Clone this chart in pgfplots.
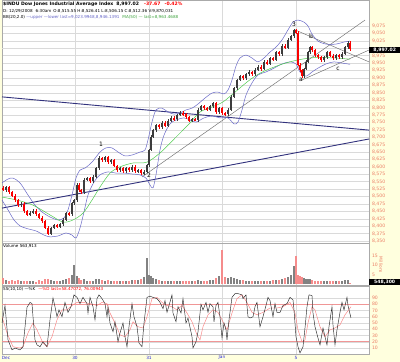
\documentclass[border=0pt]{standalone}
\usepackage{pgfplots}
\pgfplotsset{compat=1.18}
\usepackage{pgfplotstable}
\usepackage{fontspec}
\setmainfont{DejaVu Sans}
\definecolor{bgy}{RGB}{255,255,222}
\definecolor{gridc}{RGB}{218,218,218}
\definecolor{framec}{RGB}{170,170,170}
\definecolor{lbl}{RGB}{235,125,100}
\definecolor{bbc}{RGB}{105,105,200}
\definecolor{mac}{RGB}{80,205,80}
\definecolor{cred}{RGB}{250,0,0}
\definecolor{cblk}{RGB}{60,60,60}
\definecolor{navy}{RGB}{50,50,125}
\definecolor{tgray}{RGB}{110,110,110}
\definecolor{kc}{RGB}{40,40,40}
\definecolor{dc}{RGB}{250,130,130}
\definecolor{vred}{RGB}{245,140,140}
\definecolor{vgray}{RGB}{130,130,130}
\definecolor{xlab}{RGB}{40,40,220}
\definecolor{bandc}{RGB}{240,150,150}

\pgfplotstableread{
x o c v
3 8530 8522 3.0
6 8522 8532 2.0
9 8532 8515 1.8
12 8515 8502 2.2
15 8502 8488 1.5
18 8488 8471 2.0
21 8471 8476 1.6
24 8476 8450 1.8
27 8450 8438 1.4
30 8438 8445 1.5
33 8445 8452 1.7
36 8452 8441 1.3
39 8441 8428 2.0
42 8428 8417 1.8
45 8417 8395 2.5
48 8395 8375 2.6
51 8375 8394 2.0
54 8394 8404 1.5
57 8404 8398 1.4
60 8398 8407 1.8
63 8407 8421 2.2
66 8421 8444 2.5
69 8444 8440 3.0
72 8440 8478 4.5
74 8478 8488 10.0
77 8488 8540 4.0
79 8540 8522 3.0
81 8522 8515 2.2
84 8515 8556 2.4
87 8556 8562 1.8
90 8562 8552 1.6
93 8552 8566 1.8
96 8566 8596 2.4
99 8596 8630 2.8
102 8630 8623 1.9
105 8623 8633 1.7
108 8633 8616 2.0
111 8616 8623 1.5
114 8623 8603 1.7
117 8603 8589 1.6
120 8589 8596 1.4
123 8596 8586 1.5
126 8586 8596 1.6
129 8596 8589 1.7
132 8589 8600 1.9
135 8600 8586 2.0
138 8586 8589 2.2
141 8589 8579 2.6
144 8579 8583 3.5
147 8583 8606 13.5
149 8606 8657 5.0
151 8657 8701 4.0
153 8701 8724 3.2
156 8724 8741 2.4
159 8741 8734 2.0
162 8734 8748 1.8
165 8748 8738 1.6
168 8738 8755 1.5
171 8755 8765 1.6
174 8765 8760 1.4
177 8760 8775 1.5
180 8775 8782 1.6
183 8782 8778 1.4
186 8778 8768 1.7
189 8768 8755 1.8
192 8755 8761 1.5
195 8761 8758 1.6
198 8758 8792 2.0
201 8792 8805 1.8
204 8805 8798 1.6
207 8798 8792 1.7
210 8792 8805 2.0
213 8805 8815 2.2
216 8815 8785 3.0
219 8785 8798 4.0
222 8798 8781 17.8
225 8781 8778 3.5
228 8778 8792 3.0
231 8792 8836 3.8
234 8836 8866 3.0
237 8866 8893 2.5
240 8893 8906 2.2
243 8906 8898 2.0
246 8898 8913 1.8
249 8913 8920 1.6
252 8920 8912 1.5
255 8912 8927 1.6
258 8927 8937 1.7
261 8937 8930 1.5
264 8930 8954 1.8
267 8954 8948 1.6
270 8948 8967 1.7
273 8967 8962 1.9
276 8962 8987 2.0
279 8987 8980 2.3
282 8980 9008 2.5
285 9008 9001 3.0
288 9001 9028 3.5
291 9028 9041 5.0
294 9041 9060 9.5
296 9060 9052 15.0
298 9052 8945 5.0
300 8945 8925 4.0
302 8925 8905 3.5
304 8905 8930 3.0
306 8930 8954 2.6
308 8954 8987 2.5
310 8987 9004 2.4
312 9004 8994 2.0
315 8994 8977 1.8
318 8977 8970 1.7
321 8970 8960 1.8
324 8960 8970 1.6
327 8970 8987 1.7
330 8987 8974 1.5
333 8974 8967 1.6
336 8967 8977 1.5
339 8977 8970 1.7
342 8970 8981 1.8
345 8981 9004 2.0
348 9004 9018 2.2
350 9018 8997 0.55
}\candles

\pgfplotstableread{
x y
2 8546
8 8559
13 8562
20 8546
28 8505
35 8471
42 8448
50 8431
58 8421
64 8428
68 8455
72 8505
76 8562
80 8589
85 8596
92 8616
100 8650
106 8664
112 8664
118 8650
125 8637
132 8640
140 8650
145 8657
148 8691
152 8751
156 8792
162 8798
168 8785
174 8778
180 8782
186 8792
192 8798
198 8812
205 8832
212 8849
218 8852
224 8846
228 8859
232 8893
236 8940
240 8967
246 8977
252 8967
258 8954
264 8967
270 8987
276 9004
282 9028
288 9062
293 9088
298 9095
304 9088
308 9075
312 9048
318 9024
326 9014
336 9014
344 9021
350 9024
}\bbup

\pgfplotstableread{
x y
2 8488
8 8455
14 8421
20 8401
28 8391
36 8384
44 8370
50 8364
58 8367
66 8377
72 8370
76 8360
80 8394
84 8448
88 8505
94 8549
100 8573
108 8583
116 8579
124 8579
132 8576
140 8573
146 8562
150 8539
153 8529
156 8573
160 8657
164 8707
170 8745
176 8758
184 8765
190 8758
196 8751
204 8765
212 8772
220 8765
228 8765
234 8745
238 8751
242 8792
246 8842
252 8883
258 8910
266 8920
274 8933
282 8947
290 8954
296 8947
300 8920
306 8906
312 8920
318 8933
326 8947
334 8954
342 8950
350 8946
}\bblo

\pgfplotstableread{
x y
2 8498
17 8488
33 8471
50 8438
63 8414
73 8421
83 8444
92 8488
100 8532
110 8579
120 8600
133 8613
147 8616
160 8647
170 8680
183 8724
190 8748
200 8785
212 8802
223 8819
235 8852
247 8886
257 8910
267 8927
280 8944
290 8954
300 8962
313 8968
330 8968
340 8966
350 8963
}\mafifty

\pgfplotstableread{
x y
2 50
5 78
8 23
12 7
15 10
20 7
23 12
27 75
30 83
32 81
33 60
35 23
37 15
40 12
43 20
47 12
50 55
53 90
55 76
57 60
59 71
62 60
65 83
68 67
71 76
74 95
77 91
80 81
83 91
87 81
88 66
90 91
93 76
95 55
97 89
99 95
102 89
105 81
107 60
108 76
110 50
113 36
115 52
118 20
120 34
123 50
125 28
127 12
129 44
132 81
134 60
137 44
139 18
142 12
144 50
147 91
150 93
153 91
157 89
160 83
163 73
165 86
167 67
169 78
172 95
173 66
176 52
178 76
181 66
183 89
186 50
188 58
192 28
193 10
196 20
198 36
201 80
203 71
206 83
208 67
210 81
213 76
214 52
216 78
218 83
220 60
222 26
224 50
226 39
227 23
229 55
232 91
235 97
238 97
242 95
243 89
246 95
248 60
250 58
253 60
255 76
257 83
260 44
263 60
266 78
268 91
270 86
273 60
275 81
277 67
280 67
283 78
287 81
290 91
293 87
294 71
296 28
298 12
300 2
303 12
305 42
307 76
309 95
312 94
313 66
315 44
318 26
320 15
323 42
325 28
327 15
329 44
332 76
333 47
335 15
337 39
340 67
342 83
344 71
347 91
348 78
351 58
}\stk

\pgfplotstableread{
x y
2 60
7 34
13 12
20 10
23 12
28 34
33 50
37 39
43 18
47 12
52 28
57 55
62 71
67 71
72 78
77 83
83 83
90 81
97 78
102 83
107 81
110 66
115 50
120 31
125 28
130 39
133 52
138 44
143 42
147 60
152 89
157 91
162 83
167 78
172 76
177 71
182 78
187 66
192 52
197 31
200 23
203 44
208 63
213 71
218 67
222 55
227 39
232 66
237 89
242 95
247 83
252 67
257 63
263 67
270 74
277 74
283 76
290 83
295 66
298 39
302 20
305 23
308 50
312 76
315 71
320 44
325 28
330 39
335 42
340 47
345 63
351 76
}\std

\pgfplotsset{
  panel/.style={
    scale only axis, width=367pt, xmin=2, xmax=369, anchor=south west,
    axis background/.style={fill=white},
    axis line style={framec, line width=0.4pt},
    xtick={75,149,222,296}, xticklabels={},
    xmajorgrids, ymajorgrids,
    grid style={gridc, line width=0.4pt},
    major tick length=0pt,
    yticklabel pos=right,
    scaled y ticks=false,
    yticklabel style={font=\fontsize{4.6}{5}\selectfont, text=lbl, anchor=west, xshift=-0.5pt,
      /pgf/number format/.cd, fixed, precision=0, 1000 sep={,}, assume math mode=true},
    clip=true,
  },
  candle/.style n args={2}{forget plot, draw=none, mark=none,
    error bars/.cd, y dir=both, y explicit, error mark=none,
    error bar style={draw=#1, solid, line width=#2, line cap=butt}},
}

\begin{document}
\begin{tikzpicture}[x=1pt,y=1pt]
\fill[bgy] (0,0) rectangle (400,362);

% ---------- main price panel ----------
\begin{axis}[panel, at={(2pt,119pt)}, height=243pt, ymin=8343.3, ymax=9162.7,
  ytick={8350,8375,...,8975,9025,9050,9075}, extra y ticks={9000}, extra y tick labels={}]
% trend lines
\addplot[navy, line width=0.9pt] coordinates {(2,8836) (369,8724)};
\addplot[navy, line width=0.9pt] coordinates {(2,8461) (369,8694)};
\addplot[tgray, line width=0.45pt] coordinates {(142,8566) (365,9095)};
\addplot[tgray, line width=0.45pt] coordinates {(302,8893) (369,8994)};
\addplot[tgray, line width=0.45pt] coordinates {(295,9062) (369,8954)};
% Bollinger bands and MA
\addplot[bbc, line width=0.5pt, smooth] table {\bbup};
\addplot[bbc, line width=0.5pt, smooth] table {\bblo};
\addplot[mac, line width=0.5pt, smooth] table {\mafifty};
% candles: wicks (zero-length where the colour does not apply)
\addplot[candle={cred}{0.35pt}]
  table[x=x, y expr={(\thisrow{o}+\thisrow{c})/2},
        y error expr={(abs(\thisrow{o}-\thisrow{c})/2+5)*(\thisrow{c}<\thisrow{o})}] {\candles};
\addplot[candle={cblk}{0.35pt}]
  table[x=x, y expr={(\thisrow{o}+\thisrow{c})/2},
        y error expr={(abs(\thisrow{o}-\thisrow{c})/2+5)*(1-(\thisrow{c}<\thisrow{o}))}] {\candles};
% candles: bodies
\addplot[candle={cred}{1.4pt}]
  table[x=x, y expr={(\thisrow{o}+\thisrow{c})/2},
        y error expr={max(abs(\thisrow{o}-\thisrow{c})/2,1.2)*(\thisrow{c}<\thisrow{o})}] {\candles};
\addplot[candle={cblk}{1.4pt}]
  table[x=x, y expr={(\thisrow{o}+\thisrow{c})/2},
        y error expr={max(abs(\thisrow{o}-\thisrow{c})/2,1.2)*(1-(\thisrow{c}<\thisrow{o}))}] {\candles};
% wave labels
\node[font=\fontsize{6}{6}\selectfont] at (axis cs:101,8676) {1};
\node[font=\fontsize{6}{6}\selectfont] at (axis cs:149,8571) {2};
\node[font=\fontsize{6}{6}\selectfont] at (axis cs:294,9080) {3};
\node[font=\fontsize{6}{6}\selectfont] at (axis cs:301,8893) {a};
\node[font=\fontsize{6}{6}\selectfont] at (axis cs:311,9040) {b};
\node[font=\fontsize{6}{6}\selectfont] at (axis cs:338,8930) {c};
\end{axis}

% ---------- volume panel ----------
\begin{axis}[panel, at={(2pt,77pt)}, height=42pt, ymin=-0.5, ymax=21.6,
  ytick={5,10,15}, ymajorgrids=false]
\addplot[ycomb, vred, line width=1.2pt]
  table[x=x, y expr={\thisrow{v}*(\thisrow{c}<\thisrow{o})}] {\candles};
\addplot[ycomb, vgray, line width=1.2pt]
  table[x=x, y expr={\thisrow{v}*(1-(\thisrow{c}<\thisrow{o}))}] {\candles};
\end{axis}

% ---------- slow stochastics panel ----------
\begin{axis}[panel, at={(2pt,8pt)}, height=68pt, ymin=0.4, ymax=109.2,
  ytick={10,20,...,90}]
\addplot[bandc, line width=0.5pt] coordinates {(2,20) (369,20)};
\addplot[bandc, line width=0.5pt] coordinates {(2,80) (369,80)};
\addplot[dc, line width=0.45pt] table {\std};
\addplot[kc, line width=0.45pt] table {\stk};
\end{axis}

% ---------- header texts ----------
\node[anchor=west, inner sep=0, font=\fontsize{4.6}{5}\selectfont\bfseries] at (3,357.5)
  {\$INDU Dow Jones Industrial Average Index\hspace{3pt}8,997.02\hspace{5pt}\textcolor{red}{-37.67\hspace{4pt}-0.42\%}};
\node[anchor=west, inner sep=0, font=\fontsize{4.1}{5}\selectfont] at (3,351)
  {D: 12/29/2008\hspace{3pt}6:30am\hspace{2pt}O:8,515.55 H:8,526.41 L:8,506.15 C:8,512.36 V:9,870,031};
\node[anchor=west, inner sep=0, font=\fontsize{4.1}{5}\selectfont] at (3,345)
  {BB(20,2.0) \textcolor{bbc}{---upper ---lower last=9,023.9948,8,946.1391}\hspace{3pt}\textcolor{mac!80!black}{MA(50) --- last=8,963.4688}};
\node[anchor=west, inner sep=0, font=\fontsize{4.1}{5}\selectfont] at (3,115.5) {Volume 563,913};
\node[anchor=west, inner sep=0, font=\fontsize{4.1}{5}\selectfont] at (3,73)
  {SS(10,10) ---\%K\hspace{3pt}\textcolor{red}{---\%D last=58.47072, 76.00943}};

% ---------- last value boxes ----------
\node[anchor=west, fill=black, text=white, inner xsep=1pt, inner ysep=0.8pt, minimum width=31pt,
  font=\fontsize{4.6}{5}\selectfont\bfseries] at (369,312) {8,997.02};
\node[anchor=west, fill=black, text=white, inner xsep=1pt, inner ysep=0.8pt, minimum width=31pt,
  font=\fontsize{4.6}{5}\selectfont\bfseries] at (369,80) {548,300};
\node[rotate=-90, text=lbl, font=\fontsize{4.3}{5}\selectfont] at (381,97) {Millions};

% ---------- date labels ----------
\foreach \xx/\tt in {6/Dec,75/30,149/31,222/Jan,296/5}
  \node[text=xlab, font=\fontsize{4.3}{5}\selectfont, inner sep=0] at (\xx,4.3) {\tt};

\pgfresetboundingbox
\path[use as bounding box] (0,0) rectangle (400,362);
\end{tikzpicture}
\end{document}
